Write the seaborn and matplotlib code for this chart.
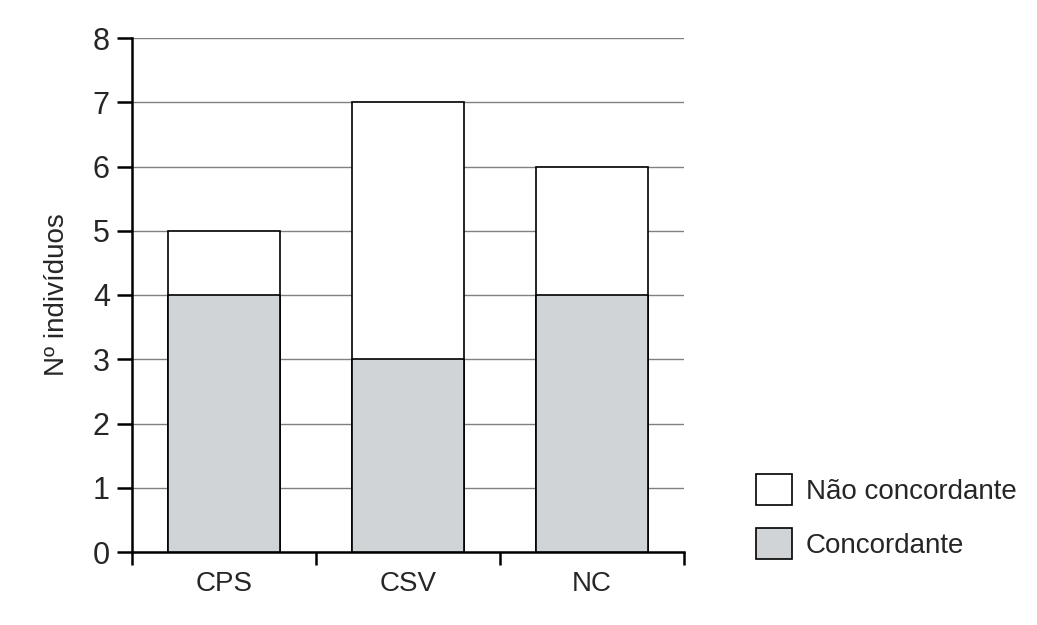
import numpy as np
import pandas as pd
import matplotlib
matplotlib.use("Agg")
import matplotlib.pyplot as plt
import matplotlib.patches as mpatches
from matplotlib.ticker import FixedLocator
import seaborn as sns

# --- data ---
groups = ["CPS", "CSV", "NC"]
concordante = [4, 3, 4]
nao_concordante = [1, 4, 2]
series_labels = ["Não concordante", "Concordante"]

GRAY = "#d0d4d6"

sns.set_theme(style="white")
plt.rcParams["font.family"] = ["Liberation Sans Narrow", "Liberation Sans", "DejaVu Sans"]

df = pd.DataFrame({
    "grupo": groups,
    "concordante": concordante,
    "total": np.array(concordante) + np.array(nao_concordante),
})

fig = plt.figure(figsize=(10.37, 6.25), dpi=100)
ax = fig.add_axes([0.1273, 0.1168, 0.5323, 0.8224])

# white totals first, gray concordant portion on top
sns.barplot(data=df, x="grupo", y="total", color="white", edgecolor="black",
            linewidth=1.2, width=0.61, saturation=1, ax=ax, zorder=3)
sns.barplot(data=df, x="grupo", y="concordante", color=GRAY, edgecolor="black",
            linewidth=1.2, width=0.61, saturation=1, ax=ax, zorder=4)

ax.set_ylim(0, 8)
ax.set_xlim(-0.5, 2.5)
ax.set_yticks(range(0, 9))
ax.yaxis.grid(True, color="#808080", linewidth=1.0, zorder=0)
ax.set_axisbelow(True)

for side in ["top", "right"]:
    ax.spines[side].set_visible(False)
for side in ["left", "bottom"]:
    ax.spines[side].set_color("black")
    ax.spines[side].set_linewidth(1.8)

ax.tick_params(axis="y", direction="out", length=11, width=1.8, color="black",
               labelsize=22, pad=5, left=True)
ax.tick_params(axis="x", which="major", length=0, labelsize=20, pad=14)
ax.xaxis.set_minor_locator(FixedLocator([-0.5, 0.5, 1.5, 2.5]))
ax.tick_params(axis="x", which="minor", direction="out", length=9.5, width=1.8,
               color="black", bottom=True)

ax.set_xlabel("")
ax.set_ylabel("Nº indivíduos", fontsize=20, labelpad=16)

handles = [
    mpatches.Patch(facecolor="white", edgecolor="black", linewidth=1.2, label=series_labels[0]),
    mpatches.Patch(facecolor=GRAY, edgecolor="black", linewidth=1.2, label=series_labels[1]),
]
fig.legend(handles=handles, loc="lower left", bbox_to_anchor=(0.705, 0.066),
           frameon=False, fontsize=20, handlelength=1.3, handleheight=1.3,
           handletextpad=0.5, labelspacing=0.85)

fig.savefig("out.png", dpi=100)
